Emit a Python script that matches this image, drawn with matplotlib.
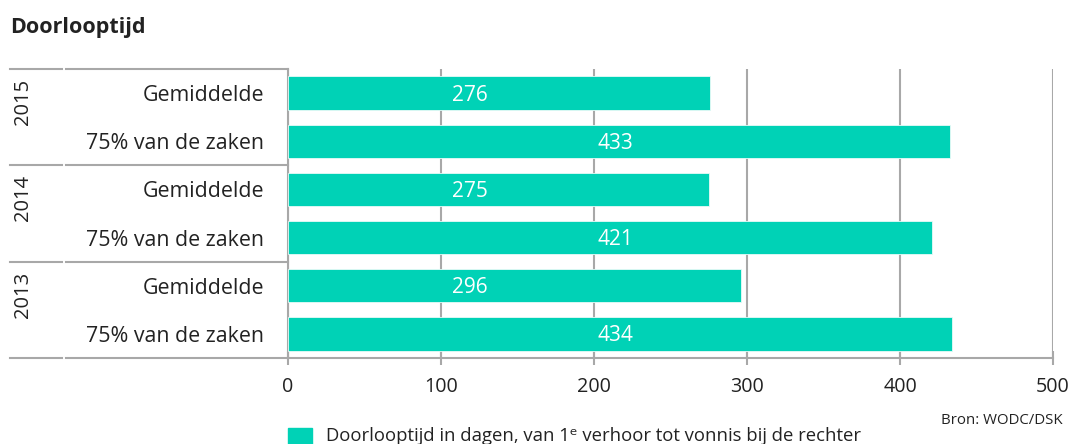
import matplotlib
matplotlib.use("Agg")
import matplotlib.pyplot as plt

# Data
years = ["2015", "2014", "2013"]
categories = ["Gemiddelde", "75% van de zaken"]
values = [276, 433, 275, 421, 296, 434]
xticks = [0, 100, 200, 300, 400, 500]

BAR_COLOR = "#00d2b6"
GRID_COLOR = "#a8a8a8"
TEXT_COLOR = "#222222"

plt.rcParams["font.family"] = ["Open Sans", "DejaVu Sans"]

fig = plt.figure(figsize=(10.68, 4.44), dpi=100)
ax = fig.add_axes([288 / 1068, 1 - 358 / 444, 765 / 1068, 289 / 444])

n_rows = len(values)
ypos = [i + 0.5 for i in range(n_rows)]
row_labels = categories * len(years)

ax.barh(ypos, values, height=0.69, color=BAR_COLOR, edgecolor="#e8faf7",
        linewidth=0.6, zorder=3)

# value labels sit at roughly fixed spots per category
label_x = {"Gemiddelde": 119, "75% van de zaken": 214}
for y, v, cat in zip(ypos, values, row_labels):
    ax.text(label_x[cat], y + 0.04, str(v), color="white", fontsize=15,
            ha="center", va="center", zorder=4)

ax.set_xlim(0, 500)
ax.set_ylim(n_rows, 0)
ax.set_xticks(xticks)
ax.set_xticklabels([str(t) for t in xticks], fontsize=14.2, color=TEXT_COLOR)
ax.set_yticks(ypos)
ax.set_yticklabels(row_labels, fontsize=15.4, color=TEXT_COLOR)
ax.tick_params(axis="y", length=0, pad=17)
ax.tick_params(axis="x", direction="inout", length=10, width=1.5,
               color=GRID_COLOR, pad=8.5)

ax.grid(axis="x", color=GRID_COLOR, linewidth=1.5, zorder=1)
ax.set_axisbelow(True)
for side in ["top", "right"]:
    ax.spines[side].set_visible(False)
for side in ["left", "bottom"]:
    ax.spines[side].set_color(GRID_COLOR)
    ax.spines[side].set_linewidth(1.5)

# year group separators and labels in the left margin
tr = ax.get_yaxis_transform()
x_left = (10 - 288) / 765
x_gap = (64 - 288) / 765
for g in range(len(years) + 1):
    yb = g * 2
    ax.plot([x_left, x_gap - 0.002], [yb, yb], color=GRID_COLOR, lw=1.5,
            transform=tr, clip_on=False)
    ax.plot([x_gap + 0.002, 0], [yb, yb], color=GRID_COLOR, lw=1.5,
            transform=tr, clip_on=False)
for g, yr in enumerate(years):
    ax.text((23 - 288) / 765, g * 2 + 0.2, yr, rotation=90, ha="center",
            va="top", fontsize=14.5, color=TEXT_COLOR, transform=tr)

fig.text(10 / 1068, 1 - 27 / 444, "Doorlooptijd", fontsize=15.5,
         fontweight="bold", color=TEXT_COLOR, va="center")
fig.text(1063 / 1068, 1 - 420 / 444, "Bron: WODC/DSK", fontsize=10.8,
         color=TEXT_COLOR, ha="right", va="center")

# legend
fig.patches.append(plt.Rectangle((288 / 1068, 1 - 444 / 444), 24 / 1068,
                                 16 / 444, transform=fig.transFigure,
                                 color=BAR_COLOR))
fig.text(326 / 1068, 1 - 436 / 444,
         "Doorlooptijd in dagen, van 1ᵉ verhoor tot vonnis bij de rechter",
         fontsize=13.3, color=TEXT_COLOR, va="center")

fig.savefig("out.png", dpi=100)
